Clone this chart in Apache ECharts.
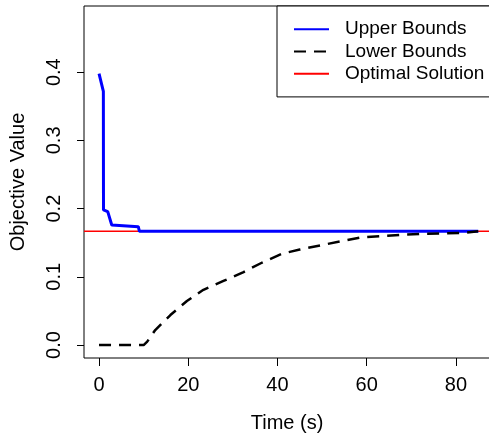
<!DOCTYPE html>
<html>
<head>
<meta charset="utf-8">
<script src="https://cdn.jsdelivr.net/npm/echarts@6/dist/echarts.min.js"></script>
<style>
  html, body { margin: 0; padding: 0; background: #fff; }
  #line { width: 489px; height: 434px; }
</style>
</head>
<body>
<div id="line"></div>
<script>
// 数据
var seriesNames = ['Upper Bounds', 'Lower Bounds', 'Optimal Solution']
var upperTime = [0, 0.97, 1, 1.95, 2.85, 8.8, 9.05, 85]
var upperValue = [0.398, 0.372, 0.198, 0.1955, 0.176, 0.1735, 0.1667, 0.1667]
var lowerTime = [0, 10, 10.8, 12.6, 16, 19.7, 23.4, 27.9, 32.4, 36.6, 41.1, 45, 50, 54.5, 59, 63.9, 68.4, 72.9, 77.8, 82.2, 85]
var lowerValue = [0, 0, 0.005, 0.022, 0.044, 0.0645, 0.081, 0.094, 0.107, 0.121, 0.134, 0.14, 0.1466, 0.1525, 0.158, 0.16, 0.1617, 0.1632, 0.1637, 0.1647, 0.1667]
var optimalValue = 0.1667
var xTicks = [0, 20, 40, 60, 80]
var yTicks = [0, 0.1, 0.2, 0.3, 0.4]

// 坐标轴范围 (R 默认留 4% 边距)
var xMin = -3.37
var xMax = 87.64
var yMin = -0.019
var yMax = 0.497

function pairs(xs, ys) {
  var list = []
  for (var i = 0; i < xs.length; i++) {
    list.push([xs[i], ys[i]])
  }
  return list
}

var font = 'Liberation Sans, Arial, Helvetica, sans-serif'
var myChart = echarts.init(document.getElementById('line'))

var option = {
  animation: false,
  backgroundColor: '#fff',
  textStyle: { fontFamily: font },
  grid: {
    left: 84,
    top: 6,
    right: -1,
    bottom: 76,
    outerBoundsMode: 'none',
    show: true,
    borderColor: '#000',
    borderWidth: 1,
    backgroundColor: 'transparent'
  },
  legend: {
    data: seriesNames,
    orient: 'vertical',
    left: 277,
    top: 6,
    padding: [12, 12, 12, 16],
    itemGap: 0,
    itemWidth: 35,
    itemHeight: 14,
    borderColor: '#000',
    borderWidth: 1,
    backgroundColor: '#fff',
    itemStyle: { opacity: 0 },
    textStyle: {
      fontSize: 19,
      lineHeight: 22.3,
      color: '#000',
      fontFamily: font,
      padding: [0, 0, 0, 11]
    }
  },
  xAxis: {
    type: 'value',
    min: xMin,
    max: xMax,
    name: 'Time (s)',
    nameLocation: 'middle',
    nameGap: 55,
    nameTextStyle: { fontSize: 20, color: '#000', fontFamily: font },
    splitLine: { show: false },
    axisLine: { show: false, onZero: false },
    axisTick: {
      show: true,
      length: 8,
      customValues: xTicks,
      lineStyle: { color: '#000' }
    },
    axisLabel: {
      customValues: xTicks,
      margin: 17,
      fontSize: 20,
      color: '#000',
      fontFamily: font
    }
  },
  yAxis: {
    type: 'value',
    min: yMin,
    max: yMax,
    name: 'Objective Value',
    nameLocation: 'middle',
    nameGap: 56,
    nameRotate: 90,
    nameTextStyle: { fontSize: 20, color: '#000', fontFamily: font },
    splitLine: { show: false },
    axisLine: { show: false, onZero: false },
    axisTick: {
      show: true,
      length: 7,
      customValues: yTicks,
      lineStyle: { color: '#000' }
    },
    axisLabel: {
      customValues: yTicks,
      rotate: 90,
      margin: 20,
      fontSize: 20,
      color: '#000',
      fontFamily: font,
      formatter: function (v) {
        return v.toFixed(1)
      }
    }
  },
  series: [
    {
      // 最优解水平线，横跨整个绘图区
      name: 'Optimal Solution',
      type: 'line',
      data: [[xMin, optimalValue], [xMax, optimalValue]],
      z: 1,
      color: '#ff0000',
      symbol: 'none',
      lineStyle: { color: '#ff0000', width: 1.5 }
    },
    {
      name: 'Upper Bounds',
      type: 'line',
      data: pairs(upperTime, upperValue),
      symbol: 'none',
      z: 2,
      color: '#0000ff',
      lineStyle: { color: '#0000ff', width: 3 }
    },
    {
      name: 'Lower Bounds',
      type: 'line',
      data: pairs(lowerTime, lowerValue),
      symbol: 'none',
      z: 3,
      color: '#000',
      lineStyle: { color: '#000', width: 2.5, type: [12, 8] }
    }
  ]
}

myChart.setOption(option)
</script>
</body>
</html>
